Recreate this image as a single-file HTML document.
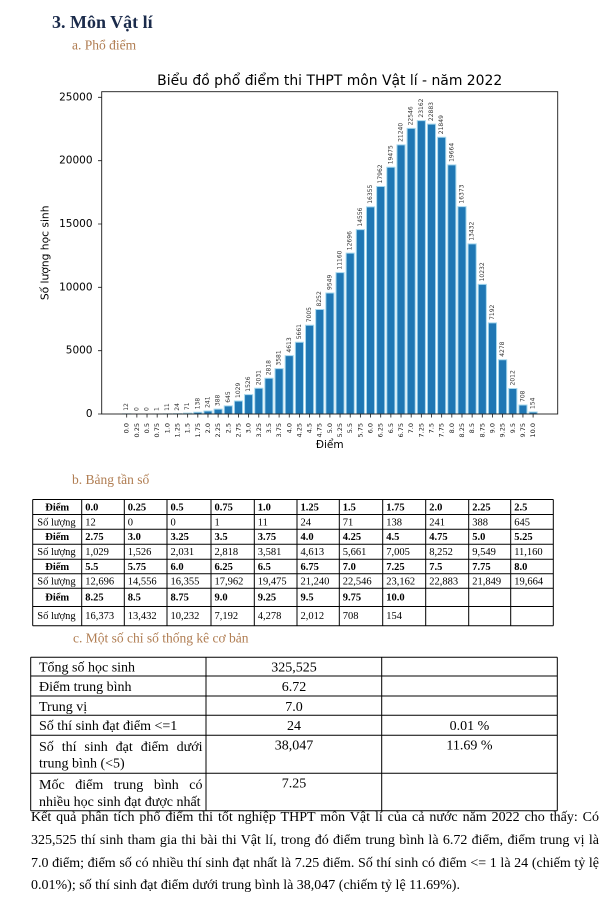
<!DOCTYPE html>
<html><head><meta charset="utf-8">
<style>
html,body{margin:0;padding:0;background:#fff;}
body{width:606px;height:904px;position:relative;overflow:hidden;}
svg{position:absolute;left:0;top:0;}
.j{position:absolute;font-family:"Liberation Serif","Noto Serif CJK SC",serif;font-size:14px;line-height:20px;white-space:nowrap;text-align:justify;text-align-last:justify;color:#000;}
</style></head>
<body>
<svg width="606" height="904" viewBox="0 0 606 904" xmlns="http://www.w3.org/2000/svg">
<!-- headings -->
<g font-family="Liberation Serif, serif">
<text x="52" y="28" font-size="18" font-weight="bold" fill="#1b2b4b">3. Môn Vật lí</text>
<text x="72" y="49.5" font-size="13.5" fill="#b07d52">a. Phổ điểm</text>
<text x="72" y="484" font-size="13.5" fill="#b07d52">b. Bảng tần số</text>
<text x="73" y="642.5" font-size="13.5" fill="#b07d52">c. Một số chỉ số thống kê cơ bản</text>
</g>

<!-- chart -->
<g font-family="DejaVu Sans, sans-serif">
<text x="329.7" y="85" font-size="13.9" text-anchor="middle" fill="#000" textLength="345" lengthAdjust="spacingAndGlyphs">Biểu đồ phổ điểm thi THPT môn Vật lí - năm 2022</text>

<g transform="translate(126.7,414) scale(10.16,-0.012668)" fill="#1f77b4" stroke="#a6d8ee" stroke-width="1">
<rect vector-effect="non-scaling-stroke" x="-0.4" y="0" width="0.8" height="12"/>
<rect vector-effect="non-scaling-stroke" x="2.6" y="0" width="0.8" height="1"/>
<rect vector-effect="non-scaling-stroke" x="3.6" y="0" width="0.8" height="11"/>
<rect vector-effect="non-scaling-stroke" x="4.6" y="0" width="0.8" height="24"/>
<rect vector-effect="non-scaling-stroke" x="5.6" y="0" width="0.8" height="71"/>
<rect vector-effect="non-scaling-stroke" x="6.6" y="0" width="0.8" height="138"/>
<rect vector-effect="non-scaling-stroke" x="7.6" y="0" width="0.8" height="241"/>
<rect vector-effect="non-scaling-stroke" x="8.6" y="0" width="0.8" height="388"/>
<rect vector-effect="non-scaling-stroke" x="9.6" y="0" width="0.8" height="645"/>
<rect vector-effect="non-scaling-stroke" x="10.6" y="0" width="0.8" height="1029"/>
<rect vector-effect="non-scaling-stroke" x="11.6" y="0" width="0.8" height="1526"/>
<rect vector-effect="non-scaling-stroke" x="12.6" y="0" width="0.8" height="2031"/>
<rect vector-effect="non-scaling-stroke" x="13.6" y="0" width="0.8" height="2818"/>
<rect vector-effect="non-scaling-stroke" x="14.6" y="0" width="0.8" height="3581"/>
<rect vector-effect="non-scaling-stroke" x="15.6" y="0" width="0.8" height="4613"/>
<rect vector-effect="non-scaling-stroke" x="16.6" y="0" width="0.8" height="5661"/>
<rect vector-effect="non-scaling-stroke" x="17.6" y="0" width="0.8" height="7005"/>
<rect vector-effect="non-scaling-stroke" x="18.6" y="0" width="0.8" height="8252"/>
<rect vector-effect="non-scaling-stroke" x="19.6" y="0" width="0.8" height="9549"/>
<rect vector-effect="non-scaling-stroke" x="20.6" y="0" width="0.8" height="11160"/>
<rect vector-effect="non-scaling-stroke" x="21.6" y="0" width="0.8" height="12696"/>
<rect vector-effect="non-scaling-stroke" x="22.6" y="0" width="0.8" height="14556"/>
<rect vector-effect="non-scaling-stroke" x="23.6" y="0" width="0.8" height="16355"/>
<rect vector-effect="non-scaling-stroke" x="24.6" y="0" width="0.8" height="17962"/>
<rect vector-effect="non-scaling-stroke" x="25.6" y="0" width="0.8" height="19475"/>
<rect vector-effect="non-scaling-stroke" x="26.6" y="0" width="0.8" height="21240"/>
<rect vector-effect="non-scaling-stroke" x="27.6" y="0" width="0.8" height="22546"/>
<rect vector-effect="non-scaling-stroke" x="28.6" y="0" width="0.8" height="23162"/>
<rect vector-effect="non-scaling-stroke" x="29.6" y="0" width="0.8" height="22883"/>
<rect vector-effect="non-scaling-stroke" x="30.6" y="0" width="0.8" height="21849"/>
<rect vector-effect="non-scaling-stroke" x="31.6" y="0" width="0.8" height="19664"/>
<rect vector-effect="non-scaling-stroke" x="32.6" y="0" width="0.8" height="16373"/>
<rect vector-effect="non-scaling-stroke" x="33.6" y="0" width="0.8" height="13432"/>
<rect vector-effect="non-scaling-stroke" x="34.6" y="0" width="0.8" height="10232"/>
<rect vector-effect="non-scaling-stroke" x="35.6" y="0" width="0.8" height="7192"/>
<rect vector-effect="non-scaling-stroke" x="36.6" y="0" width="0.8" height="4278"/>
<rect vector-effect="non-scaling-stroke" x="37.6" y="0" width="0.8" height="2012"/>
<rect vector-effect="non-scaling-stroke" x="38.6" y="0" width="0.8" height="708"/>
<rect vector-effect="non-scaling-stroke" x="39.6" y="0" width="0.8" height="154"/>
</g>

<!-- frame -->
<rect x="101.7" y="91.7" width="456" height="322.3" fill="none" stroke="#1a1a1a" stroke-width="0.9"/>

<!-- y ticks -->
<path d="M98 414h3.7M98 350.67h3.7M98 287.33h3.7M98 224h3.7M98 160.67h3.7M98 97.33h3.7" stroke="#1a1a1a" stroke-width="0.8"/>
<g font-size="10.5" text-anchor="end" dominant-baseline="central" fill="#000">
<text x="92.5" y="414">0</text>
<text x="92.5" y="350.67">5000</text>
<text x="92.5" y="287.33">10000</text>
<text x="92.5" y="224">15000</text>
<text x="92.5" y="160.67">20000</text>
<text x="92.5" y="97.33">25000</text>
</g>
<text transform="translate(45,252.85) rotate(-90)" font-size="10.7" text-anchor="middle" dominant-baseline="central" fill="#000">Số lượng học sinh</text>
<text x="329.7" y="445" font-size="10.5" text-anchor="middle" dominant-baseline="central" fill="#000">Điểm</text>

<!-- x ticks -->
<path stroke="#1a1a1a" stroke-width="0.8" d="M126.7 414v3.5M136.86 414v3.5M147.02 414v3.5M157.18 414v3.5M167.34 414v3.5M177.5 414v3.5M187.66 414v3.5M197.82 414v3.5M207.98 414v3.5M218.14 414v3.5M228.3 414v3.5M238.46 414v3.5M248.62 414v3.5M258.78 414v3.5M268.94 414v3.5M279.1 414v3.5M289.26 414v3.5M299.42 414v3.5M309.58 414v3.5M319.74 414v3.5M329.9 414v3.5M340.06 414v3.5M350.22 414v3.5M360.38 414v3.5M370.54 414v3.5M380.7 414v3.5M390.86 414v3.5M401.02 414v3.5M411.18 414v3.5M421.34 414v3.5M431.5 414v3.5M441.66 414v3.5M451.82 414v3.5M461.98 414v3.5M472.14 414v3.5M482.3 414v3.5M492.46 414v3.5M502.62 414v3.5M512.78 414v3.5M522.94 414v3.5M533.1 414v3.5"/>
<g font-size="6.5" text-anchor="end" dominant-baseline="central" fill="#222">
<text transform="translate(126.7,423) rotate(-90)">0.0</text>
<text transform="translate(136.86,423) rotate(-90)">0.25</text>
<text transform="translate(147.02,423) rotate(-90)">0.5</text>
<text transform="translate(157.18,423) rotate(-90)">0.75</text>
<text transform="translate(167.34,423) rotate(-90)">1.0</text>
<text transform="translate(177.5,423) rotate(-90)">1.25</text>
<text transform="translate(187.66,423) rotate(-90)">1.5</text>
<text transform="translate(197.82,423) rotate(-90)">1.75</text>
<text transform="translate(207.98,423) rotate(-90)">2.0</text>
<text transform="translate(218.14,423) rotate(-90)">2.25</text>
<text transform="translate(228.3,423) rotate(-90)">2.5</text>
<text transform="translate(238.46,423) rotate(-90)">2.75</text>
<text transform="translate(248.62,423) rotate(-90)">3.0</text>
<text transform="translate(258.78,423) rotate(-90)">3.25</text>
<text transform="translate(268.94,423) rotate(-90)">3.5</text>
<text transform="translate(279.1,423) rotate(-90)">3.75</text>
<text transform="translate(289.26,423) rotate(-90)">4.0</text>
<text transform="translate(299.42,423) rotate(-90)">4.25</text>
<text transform="translate(309.58,423) rotate(-90)">4.5</text>
<text transform="translate(319.74,423) rotate(-90)">4.75</text>
<text transform="translate(329.9,423) rotate(-90)">5.0</text>
<text transform="translate(340.06,423) rotate(-90)">5.25</text>
<text transform="translate(350.22,423) rotate(-90)">5.5</text>
<text transform="translate(360.38,423) rotate(-90)">5.75</text>
<text transform="translate(370.54,423) rotate(-90)">6.0</text>
<text transform="translate(380.7,423) rotate(-90)">6.25</text>
<text transform="translate(390.86,423) rotate(-90)">6.5</text>
<text transform="translate(401.02,423) rotate(-90)">6.75</text>
<text transform="translate(411.18,423) rotate(-90)">7.0</text>
<text transform="translate(421.34,423) rotate(-90)">7.25</text>
<text transform="translate(431.5,423) rotate(-90)">7.5</text>
<text transform="translate(441.66,423) rotate(-90)">7.75</text>
<text transform="translate(451.82,423) rotate(-90)">8.0</text>
<text transform="translate(461.98,423) rotate(-90)">8.25</text>
<text transform="translate(472.14,423) rotate(-90)">8.5</text>
<text transform="translate(482.3,423) rotate(-90)">8.75</text>
<text transform="translate(492.46,423) rotate(-90)">9.0</text>
<text transform="translate(502.62,423) rotate(-90)">9.25</text>
<text transform="translate(512.78,423) rotate(-90)">9.5</text>
<text transform="translate(522.94,423) rotate(-90)">9.75</text>
<text transform="translate(533.1,423) rotate(-90)">10.0</text>
</g>

<!-- value labels -->
<g font-size="6" dominant-baseline="central" fill="#333">
<text transform="translate(126.7,410.8) rotate(-90)">12</text>
<text transform="translate(136.86,411) rotate(-90)">0</text>
<text transform="translate(147.02,411) rotate(-90)">0</text>
<text transform="translate(157.18,411) rotate(-90)">1</text>
<text transform="translate(167.34,410.9) rotate(-90)">11</text>
<text transform="translate(177.5,410.7) rotate(-90)">24</text>
<text transform="translate(187.66,410.1) rotate(-90)">71</text>
<text transform="translate(197.82,409.3) rotate(-90)">138</text>
<text transform="translate(207.98,407.9) rotate(-90)">241</text>
<text transform="translate(218.14,406.1) rotate(-90)">388</text>
<text transform="translate(228.3,402.8) rotate(-90)">645</text>
<text transform="translate(238.46,398) rotate(-90)">1029</text>
<text transform="translate(248.62,391.7) rotate(-90)">1526</text>
<text transform="translate(258.78,385.3) rotate(-90)">2031</text>
<text transform="translate(268.94,375.3) rotate(-90)">2818</text>
<text transform="translate(279.1,365.6) rotate(-90)">3581</text>
<text transform="translate(289.26,352.6) rotate(-90)">4613</text>
<text transform="translate(299.42,339.3) rotate(-90)">5661</text>
<text transform="translate(309.58,322.3) rotate(-90)">7005</text>
<text transform="translate(319.74,306.5) rotate(-90)">8252</text>
<text transform="translate(329.9,290) rotate(-90)">9549</text>
<text transform="translate(340.06,269.6) rotate(-90)">11160</text>
<text transform="translate(350.22,250.2) rotate(-90)">12696</text>
<text transform="translate(360.38,226.6) rotate(-90)">14556</text>
<text transform="translate(370.54,203.8) rotate(-90)">16355</text>
<text transform="translate(380.7,183.5) rotate(-90)">17962</text>
<text transform="translate(390.86,164.3) rotate(-90)">19475</text>
<text transform="translate(401.02,141.9) rotate(-90)">21240</text>
<text transform="translate(411.18,125.4) rotate(-90)">22546</text>
<text transform="translate(421.34,117.6) rotate(-90)">23162</text>
<text transform="translate(431.5,121.1) rotate(-90)">22883</text>
<text transform="translate(441.66,134.2) rotate(-90)">21849</text>
<text transform="translate(451.82,161.9) rotate(-90)">19664</text>
<text transform="translate(461.98,203.6) rotate(-90)">16373</text>
<text transform="translate(472.14,240.8) rotate(-90)">13432</text>
<text transform="translate(482.3,281.4) rotate(-90)">10232</text>
<text transform="translate(492.46,319.9) rotate(-90)">7192</text>
<text transform="translate(502.62,356.8) rotate(-90)">4278</text>
<text transform="translate(512.78,385.5) rotate(-90)">2012</text>
<text transform="translate(522.94,402) rotate(-90)">708</text>
<text transform="translate(533.1,409) rotate(-90)">154</text>
</g>
</g>

<!-- frequency table grid -->
<g stroke="#000" stroke-width="1" fill="none">
<path d="M32.7 499.5V625.7M81.7 499.5V625.7M124.3 499.5V625.7M167 499.5V625.7M211 499.5V625.7M254.3 499.5V625.7M297 499.5V625.7M339.3 499.5V625.7M382.7 499.5V625.7M425.7 499.5V625.7M468.7 499.5V625.7M510.7 499.5V625.7M553.3 499.5V625.7"/>
<path d="M32.7 499.5H553.3M32.7 514.5H553.3M32.7 529.3H553.3M32.7 544.3H553.3M32.7 559.3H553.3M32.7 573.8H553.3M32.7 588.3H553.3M32.7 606.5H553.3M32.7 625.7H553.3"/>
</g>
<g font-family="Liberation Serif, serif" font-size="10.5" fill="#000">
<g font-weight="bold" text-anchor="middle">
<text x="57.2" y="510.3">Điểm</text>
<text x="57.2" y="540.1">Điểm</text>
<text x="57.2" y="570.1">Điểm</text>
<text x="57.2" y="600.3">Điểm</text>
</g>
<text x="37.3" y="525.3">Số lượng</text>
<text x="37.3" y="555.1">Số lượng</text>
<text x="37.3" y="584.6">Số lượng</text>
<text x="37.3" y="618.8">Số lượng</text>
<g font-weight="bold">
<text y="510.3"><tspan x="85.2">0.0</tspan><tspan x="127.8">0.25</tspan><tspan x="170.5">0.5</tspan><tspan x="214.5">0.75</tspan><tspan x="257.8">1.0</tspan><tspan x="300.5">1.25</tspan><tspan x="342.8">1.5</tspan><tspan x="386.2">1.75</tspan><tspan x="429.2">2.0</tspan><tspan x="472.2">2.25</tspan><tspan x="514.2">2.5</tspan></text>
<text y="540.1"><tspan x="85.2">2.75</tspan><tspan x="127.8">3.0</tspan><tspan x="170.5">3.25</tspan><tspan x="214.5">3.5</tspan><tspan x="257.8">3.75</tspan><tspan x="300.5">4.0</tspan><tspan x="342.8">4.25</tspan><tspan x="386.2">4.5</tspan><tspan x="429.2">4.75</tspan><tspan x="472.2">5.0</tspan><tspan x="514.2">5.25</tspan></text>
<text y="570.1"><tspan x="85.2">5.5</tspan><tspan x="127.8">5.75</tspan><tspan x="170.5">6.0</tspan><tspan x="214.5">6.25</tspan><tspan x="257.8">6.5</tspan><tspan x="300.5">6.75</tspan><tspan x="342.8">7.0</tspan><tspan x="386.2">7.25</tspan><tspan x="429.2">7.5</tspan><tspan x="472.2">7.75</tspan><tspan x="514.2">8.0</tspan></text>
<text y="600.3"><tspan x="85.2">8.25</tspan><tspan x="127.8">8.5</tspan><tspan x="170.5">8.75</tspan><tspan x="214.5">9.0</tspan><tspan x="257.8">9.25</tspan><tspan x="300.5">9.5</tspan><tspan x="342.8">9.75</tspan><tspan x="386.2">10.0</tspan></text>
</g>
<text y="525.3"><tspan x="85.2">12</tspan><tspan x="127.8">0</tspan><tspan x="170.5">0</tspan><tspan x="214.5">1</tspan><tspan x="257.8">11</tspan><tspan x="300.5">24</tspan><tspan x="342.8">71</tspan><tspan x="386.2">138</tspan><tspan x="429.2">241</tspan><tspan x="472.2">388</tspan><tspan x="514.2">645</tspan></text>
<text y="555.1"><tspan x="85.2">1,029</tspan><tspan x="127.8">1,526</tspan><tspan x="170.5">2,031</tspan><tspan x="214.5">2,818</tspan><tspan x="257.8">3,581</tspan><tspan x="300.5">4,613</tspan><tspan x="342.8">5,661</tspan><tspan x="386.2">7,005</tspan><tspan x="429.2">8,252</tspan><tspan x="472.2">9,549</tspan><tspan x="514.2">11,160</tspan></text>
<text y="584.6"><tspan x="85.2">12,696</tspan><tspan x="127.8">14,556</tspan><tspan x="170.5">16,355</tspan><tspan x="214.5">17,962</tspan><tspan x="257.8">19,475</tspan><tspan x="300.5">21,240</tspan><tspan x="342.8">22,546</tspan><tspan x="386.2">23,162</tspan><tspan x="429.2">22,883</tspan><tspan x="472.2">21,849</tspan><tspan x="514.2">19,664</tspan></text>
<text y="618.8"><tspan x="85.2">16,373</tspan><tspan x="127.8">13,432</tspan><tspan x="170.5">10,232</tspan><tspan x="214.5">7,192</tspan><tspan x="257.8">4,278</tspan><tspan x="300.5">2,012</tspan><tspan x="342.8">708</tspan><tspan x="386.2">154</tspan></text>
</g>

<!-- stats table grid -->
<g stroke="#000" stroke-width="1" fill="none">
<path d="M30.7 657.3V810.7M206 657.3V810.7M381.7 657.3V810.7M557.3 657.3V810.7"/>
<path d="M30.7 657.3H557.3M30.7 676H557.3M30.7 696H557.3M30.7 715.3H557.3M30.7 735.3H557.3M30.7 773.3H557.3M30.7 810.7H557.3"/>
</g>
<g font-family="Liberation Serif, serif" font-size="14" fill="#000">
<text x="39" y="671.7">Tổng số học sinh</text>
<text x="39" y="691.2">Điểm trung bình</text>
<text x="39" y="710.8">Trung vị</text>
<text x="39" y="730.2">Số thí sinh đạt điểm &lt;=1</text>
<text x="39" y="767.6">trung bình (&lt;5)</text>
<text x="39" y="806">nhiều học sinh đạt được nhất</text>
<g text-anchor="middle">
<text x="294" y="671.7">325,525</text>
<text x="294" y="691.2">6.72</text>
<text x="294" y="710.8">7.0</text>
<text x="294" y="730.2">24</text>
<text x="294" y="749.3">38,047</text>
<text x="294" y="787.3">7.25</text>
<text x="469.5" y="730.2">0.01 %</text>
<text x="469.5" y="749.3">11.69 %</text>
</g>
<text x="31" y="888.9">0.01%); số thí sinh đạt điểm dưới trung bình là 38,047 (chiếm tỷ lệ 11.69%).</text>
</g>
</svg>

<div class="j" style="left:39px;top:738.1px;width:163.5px">Số thí sinh đạt điểm dưới</div>
<div class="j" style="left:39px;top:776.1px;width:163.5px">Mốc điểm trung bình có</div>

<div class="j" style="left:31px;top:807.8px;width:568px">Kết quả phân tích phổ điểm thi tốt nghiệp THPT môn Vật lí của cả nước năm 2022 cho thấy: Có</div>
<div class="j" style="left:31px;top:831.1px;width:568px">325,525 thí sinh tham gia thi bài thi Vật lí, trong đó điểm trung bình là 6.72 điểm, điểm trung vị là</div>
<div class="j" style="left:31px;top:854.4px;width:568px">7.0 điểm; điểm số có nhiều thí sinh đạt nhất là 7.25 điểm. Số thí sinh có điểm &lt;= 1 là 24 (chiếm tỷ lệ</div>
</body></html>
